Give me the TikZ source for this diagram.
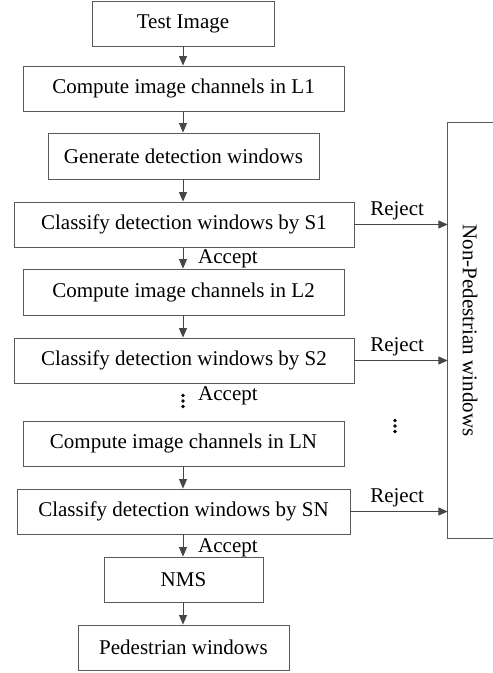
\documentclass[tikz,border=0pt]{standalone}
\usepackage{fontspec}
\setmainfont{Liberation Serif}
\usetikzlibrary{arrows.meta}
\definecolor{linegray}{RGB}{70,70,70}
\definecolor{boxgray}{RGB}{90,90,90}
\begin{document}
\begin{tikzpicture}[x=1pt,y=-1pt,
  every node/.style={font=\fontsize{21pt}{25pt}\selectfont, text=black},
  procbox/.style={draw=boxgray, line width=0.9pt, rectangle, inner sep=0pt, minimum height=45pt},
  arr/.style={draw=linegray, line width=0.9pt, -{Triangle[length=9.5pt,width=8pt]}, color=linegray},
  lbl/.style={inner sep=1pt},
  dotc/.style={fill=black}
]
\useasboundingbox (0,0) rectangle (493,673);
\node[procbox, minimum width=182pt] (test) at (183,23.5) {Test Image};
\node[procbox, minimum width=321pt] (l1) at (183.5,88.5) {Compute image channels in L1};
\node[procbox, minimum width=271pt, minimum height=46pt] (gen) at (183.5,156) {Generate detection windows};
\node[procbox, minimum width=340pt] (s1) at (184,224.5) {Classify detection windows by S1};
\node[procbox, minimum width=321pt, minimum height=46pt] (l2) at (183.5,292) {Compute image channels in L2};
\node[procbox, minimum width=340pt] (s2) at (184,360.5) {Classify detection windows by S2};
\node[procbox, minimum width=321pt] (ln) at (183.5,443.5) {Compute image channels in LN};
\node[procbox, minimum width=333pt] (sn) at (183.5,511.5) {Classify detection windows by SN};
\node[procbox, minimum width=159pt] (nms) at (183.5,579.5) {NMS};
\node[procbox, minimum width=211pt] (ped) at (183.5,647.5) {Pedestrian windows};

\node[inner sep=0pt, minimum width=44pt, minimum height=415pt] (nonped) at (470,330.5) {\rotatebox{-90}{Non-Pedestrian windows}};
\draw[draw=boxgray, line width=0.9pt] (nonped.north west) ++(50,0) -- (nonped.north west) -- (nonped.south west) -- ++(50,0);

% vertical arrows
\draw[arr] (183,0 |- test.south) -- (183,0 |- l1.north);
\draw[arr] (183,0 |- l1.south) -- (183,0 |- gen.north);
\draw[arr] (183,0 |- gen.south) -- (183,0 |- s1.north);
\draw[arr] (183,0 |- s1.south) -- (183,0 |- l2.north);
\draw[arr] (183,0 |- l2.south) -- (183,0 |- s2.north);
\draw[arr] (183,0 |- ln.south) -- (183,0 |- sn.north);
\draw[arr] (183,0 |- sn.south) -- (183,0 |- nms.north);
\draw[arr] (183,0 |- nms.south) -- (183,0 |- ped.north);

% accept labels
\node[lbl, anchor=west] (acc1) at (197,259) {Accept};
\node[lbl, anchor=west] (acc2) at (197,396) {Accept};
\node[lbl, anchor=west] (acc3) at (197,548) {Accept};

% dots
\coordinate (dotsL) at (183,401);
\coordinate (dotsR) at (395,426);
\foreach \c in {dotsL,dotsR}{
  \fill[dotc] (\c) ++(0,-5.5) circle (1.8);
  \fill[dotc] (\c) circle (1.8);
  \fill[dotc] (\c) ++(0,5.5) circle (1.8);
}

% reject arrows
\draw[arr] (s1.east) -- (s1.east -| nonped.west) node[midway, above=3pt, lbl, xshift=-4pt] {Reject};
\draw[arr] (s2.east) -- (s2.east -| nonped.west) node[midway, above=3pt, lbl, xshift=-4pt] {Reject};
\draw[arr] (sn.east) -- (sn.east -| nonped.west) node[midway, above=3pt, lbl, xshift=-2pt] {Reject};
\end{tikzpicture}
\end{document}
